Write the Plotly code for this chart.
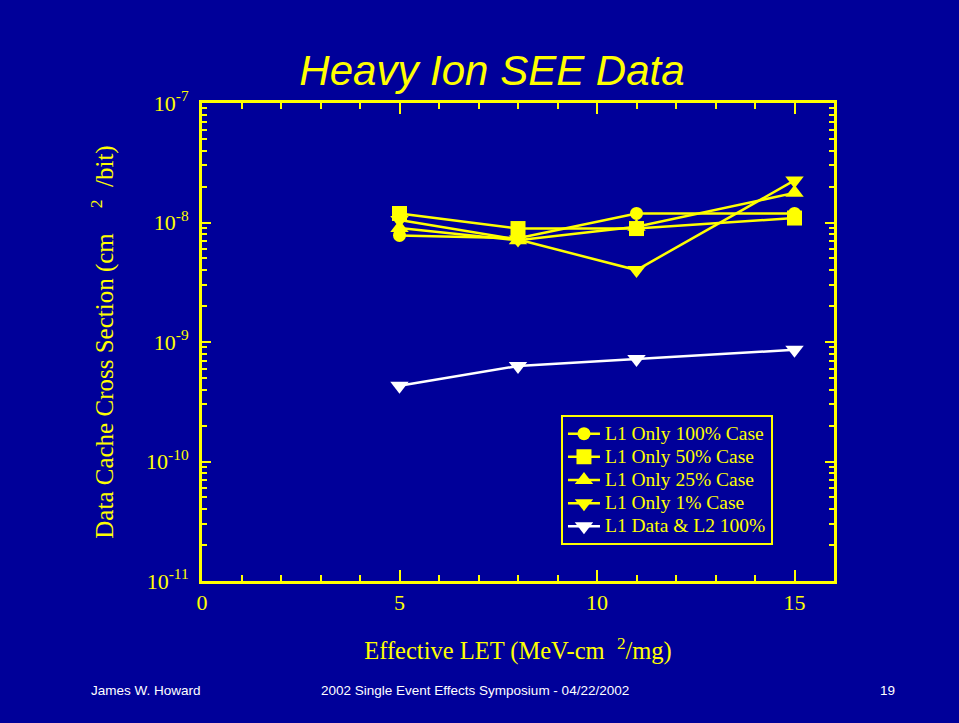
import plotly.graph_objects as go

# ---- data ----
let_values = [5, 8, 11, 15]
l1_100 = [7.8e-9, 7.4e-9, 1.19e-8, 1.19e-8]
l1_50 = [1.19e-8, 8.9e-9, 8.9e-9, 1.09e-8]
l1_25 = [9.0e-9, 7.1e-9, 9.2e-9, 1.77e-8]
l1_1 = [1.05e-8, 7.2e-9, 4.0e-9, 2.25e-8]
l1_l2_100 = [4.3e-10, 6.3e-10, 7.2e-10, 8.6e-10]

series_names = ["L1 Only 100% Case", "L1 Only 50% Case", "L1 Only 25% Case",
                "L1 Only 1% Case", "L1 Data &amp; L2 100%"]
series_vals = [l1_100, l1_50, l1_25, l1_1, l1_l2_100]
series_symbols = ["circle", "square", "triangle-up", "triangle-down", "triangle-down"]
series_sizes = [13, 15, 16, 16, 16]
series_colors = ["#FFFF00", "#FFFF00", "#FFFF00", "#FFFF00", "#FFFFFF"]

y_tickvals = [1e-11, 1e-10, 1e-9, 1e-8, 1e-7]
y_ticktext = ["10<sup>-11</sup>", "10<sup>-10</sup>", "10<sup>-9</sup>",
              "10<sup>-8</sup>", "10<sup>-7</sup>"]
x_tickvals = [0, 5, 10, 15]
x_ticktext = ["0", "5", "10", "15"]

BG = "#000099"
YEL = "#FFFF00"
SERIF = "Liberation Serif, Times New Roman, serif"

fig = go.Figure()
for name, vals, sym, sz, col in zip(series_names, series_vals, series_symbols,
                                     series_sizes, series_colors):
    fig.add_trace(go.Scatter(
        x=let_values, y=vals, name='<span style="font-size:19.5px">' + name + "</span>",
        mode="lines+markers",
        line=dict(color=col, width=2.5),
        marker=dict(symbol=sym, size=sz, color=col),
    ))

fig.update_layout(
    width=959, height=723,
    paper_bgcolor=BG, plot_bgcolor=BG,
    margin=dict(l=202, r=125, t=103, b=142),
    showlegend=True,
    title=dict(text="<i>Heavy Ion SEE Data</i>", xref="container", yref="container",
               x=0.513, y=0.903, xanchor="center", yanchor="middle",
               font=dict(family="Liberation Sans, Arial, sans-serif", size=42, color=YEL)),
    legend=dict(x=0.568, y=0.347, xanchor="left", yanchor="top",
                bgcolor=BG, bordercolor=YEL, borderwidth=2,
                font=dict(family=SERIF, size=15.5, color=YEL),
                tracegroupgap=0, itemwidth=32),
    font=dict(family=SERIF, color=YEL),
)

fig.update_xaxes(
    range=[0, 16], tickvals=x_tickvals, ticktext=x_ticktext,
    ticks="inside", ticklen=11, tickwidth=2, tickcolor=YEL,
    showline=True, linewidth=3, linecolor=YEL, mirror="allticks",
    showgrid=False, zeroline=False,
    tickfont=dict(family=SERIF, size=22, color=YEL),
    minor=dict(dtick=1, ticks="inside", ticklen=6, tickwidth=2, tickcolor=YEL, showgrid=False),
    title=dict(text="Effective LET (MeV-cm\u2002<sup>2</sup>/mg)", standoff=28,
               font=dict(family=SERIF, size=24.5, color=YEL)),
)
fig.update_yaxes(
    type="log", range=[-11, -7], tickvals=y_tickvals, ticktext=y_ticktext,
    ticks="inside", ticklen=9, tickwidth=2, tickcolor=YEL,
    showline=True, linewidth=3, linecolor=YEL, mirror="allticks",
    showgrid=False, zeroline=False, ticklabelstandoff=6,
    tickfont=dict(family=SERIF, size=22, color=YEL),
    minor=dict(dtick="D1", ticks="inside", ticklen=5, tickwidth=2, tickcolor=YEL, showgrid=False),
    title=dict(text="Data Cache Cross Section (cm\u2003<sup>2</sup>\u2002/bit)\u2003\u2003", standoff=26,
               font=dict(family=SERIF, size=25, color=YEL)),
)

footer_font = dict(family="Liberation Sans, Arial, sans-serif", size=13.5, color="#FFFFFF")
fig.add_annotation(text="James W. Howard", xref="paper", yref="paper",
                   x=(146 - 202) / 632, y=(581 - 690) / 478, showarrow=False,
                   xanchor="center", yanchor="middle", font=footer_font)
fig.add_annotation(text="2002 Single Event Effects Symposium - 04/22/2002", xref="paper", yref="paper",
                   x=(475 - 202) / 632, y=(581 - 690) / 478, showarrow=False,
                   xanchor="center", yanchor="middle", font=footer_font)
fig.add_annotation(text="19", xref="paper", yref="paper",
                   x=(887 - 202) / 632, y=(581 - 690) / 478, showarrow=False,
                   xanchor="center", yanchor="middle", font=footer_font)

fig.write_html("out.html", config={"displayModeBar": False},
               post_script="document.body.style.margin='0';document.body.style.background='#000099';")
